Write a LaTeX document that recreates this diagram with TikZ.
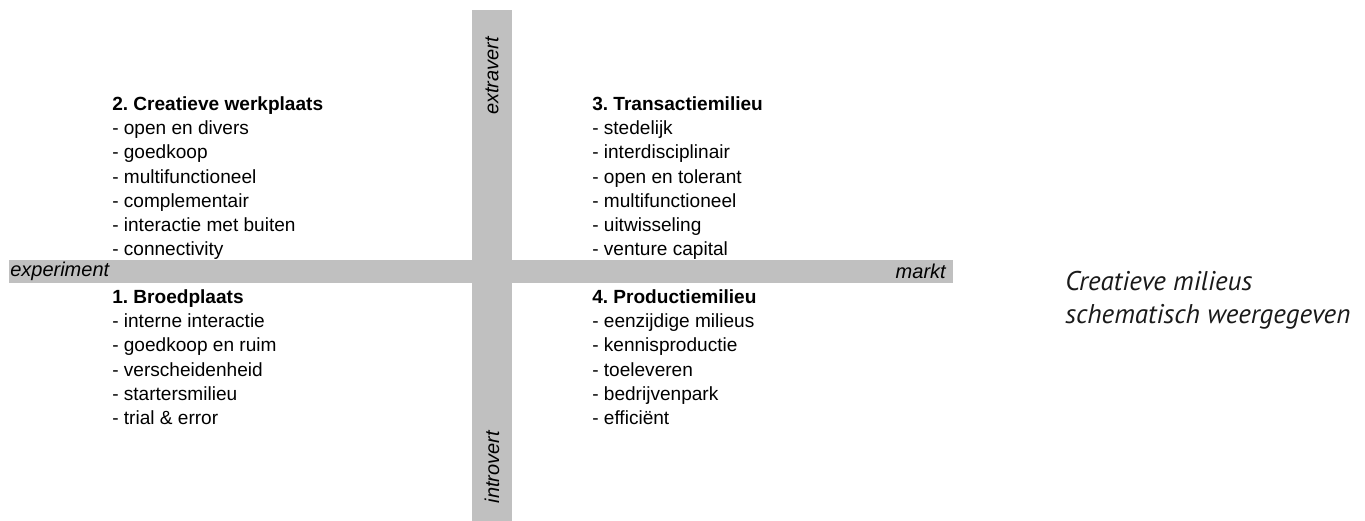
\documentclass[tikz,border=0pt]{standalone}
\usepackage{fontspec}
\setmainfont{Liberation Sans}
\newfontfamily\captionfont{PT Sans}
\definecolor{axisgray}{RGB}{192,192,192}
\definecolor{captiongray}{RGB}{26,26,26}
\frenchspacing

\tikzset{
  axisbar/.style={fill=axisgray, draw=none},
  axislabel/.style={inner sep=0pt, font=\fontsize{15}{18}\selectfont\itshape},
  quadrant/.style={anchor=north west, inner sep=0pt, align=left,
    font=\fontsize{14.3}{18.2}\selectfont},
}

\begin{document}
\begin{tikzpicture}[x=0.75pt, y=-0.75pt]

\useasboundingbox (0,0) rectangle (1365,521);

\path (9,260) coordinate(HL);
\path (953,283) coordinate(HR);
\path (472,10) coordinate(VT);
\path (512,521) coordinate(VB);

\fill [axisbar] (HL) rectangle (HR);
\fill [axisbar] (VT) rectangle (VB);

\node [axislabel, anchor=west] (experiment) at (10,271.5) {experiment};
\node [axislabel, anchor=east] (markt) at (946,271.5) {markt};
\node [axislabel, rotate=90] (extravert) at (492,76) {extravert};
\node [axislabel, rotate=90] (introvert) at (492,467) {introvert};

\node [quadrant] (werkplaats) at (112,96.3) {\textbf{2. Creatieve werkplaats}\\
- open en divers\\
- goedkoop\\
- multifunctioneel\\
- complementair\\
- interactie met buiten\\
- connectivity};

\node [quadrant] (transactie) at (592,96.3) {\textbf{3. Transactiemilieu}\\
- stedelijk\\
- interdisciplinair\\
- open en tolerant\\
- multifunctioneel\\
- uitwisseling\\
- venture capital};

\node [quadrant] (broedplaats) at (112,289.2) {\textbf{1. Broedplaats}\\
- interne interactie\\
- goedkoop en ruim\\
- verscheidenheid\\
- startersmilieu\\
- trial \& error};

\node [quadrant] (productie) at (592,289.2) {\textbf{4. Productiemilieu}\\
- eenzijdige milieus\\
- kennisproductie\\
- toeleveren\\
- bedrijvenpark\\
- efficiënt};

\node [anchor=west, inner sep=0pt, align=left, text=captiongray,
  font=\captionfont\itshape\fontsize{20.3}{25}\selectfont] (caption) at (1065,300)
  {Creatieve milieus\\schematisch weergegeven};

\end{tikzpicture}
\end{document}
